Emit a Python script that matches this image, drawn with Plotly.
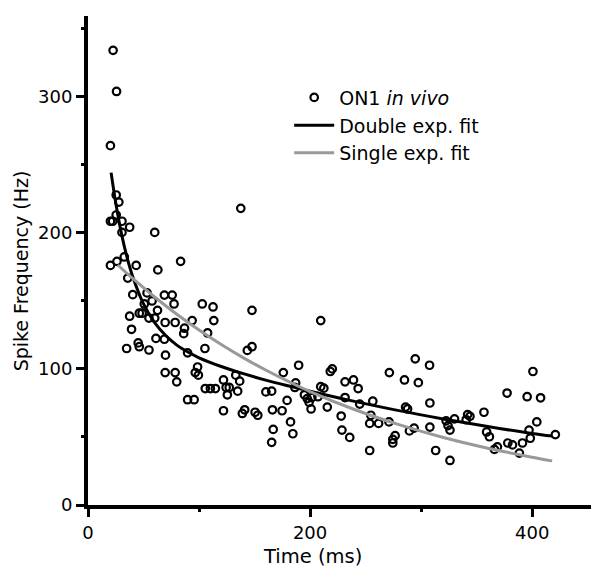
import plotly.graph_objects as go

# ---- data ----
time_ms = [22.6, 25.7, 20.2, 25.4, 27.8, 20.2, 22.2, 25.4, 30.6, 30.6, 37.5, 32.7, 20.2, 26.1, 43.4,
           60.1, 62.9, 83.4, 137.6, 35.8, 40.3, 37.5, 39.2, 34.8, 45.2, 46.2, 46.2, 48.7, 50.7, 53.2,
           54.9, 57.7, 60.1, 54.9, 61.2, 62.6, 68.8, 75.8, 69.5, 77.5, 78.5, 68.8, 69.8, 69.5, 78.5,
           79.9, 86.9, 86.2, 89.7, 93.8, 89.7, 95.6, 96.6, 98.7, 99.4, 102.9, 105.3, 107.7, 105.6, 110.2,
           114.7, 112.6, 113.3, 122.0, 124.4, 125.5, 127.2, 122.0, 133.1, 134.8, 136.6, 139.0, 141.1, 143.5, 147.7,
           147.7, 150.5, 152.9, 160.2, 165.4, 166.1, 166.8, 165.4, 174.8, 175.9, 179.3, 182.4, 184.5, 186.3, 187.0,
           189.7, 194.9, 197.4, 199.1, 200.9, 201.6, 207.1, 209.6, 212.4, 209.6, 215.5, 218.2, 220.0, 228.0, 228.7,
           231.5, 231.5, 235.7, 239.1, 243.3, 244.7, 253.7, 253.7, 254.7, 256.5, 261.7, 271.4, 271.1, 274.5, 274.5,
           276.6, 285.0, 286.0, 287.8, 289.5, 293.7, 294.7, 297.5, 307.6, 307.9, 307.9, 313.1, 322.5, 324.2, 326.0,
           326.0, 330.1, 340.6, 341.9, 344.0, 356.6, 359.0, 361.5, 366.0, 368.7, 377.4, 378.1, 382.3, 388.5, 391.3,
           395.5, 397.2, 398.3, 400.7, 404.2, 407.6, 420.9]
spike_hz = [333.8, 303.6, 263.8, 227.6, 222.4, 208.3, 208.3, 212.9, 208.3, 200.1, 203.9, 182.1, 175.9, 178.9, 175.9,
            200.1, 172.6, 178.9, 217.8, 166.6, 154.4, 138.6, 129.0, 114.9, 119.0, 116.2, 140.8, 140.8, 147.6, 155.7,
            137.2, 149.8, 137.2, 113.8, 122.3, 142.9, 154.1, 154.1, 134.0, 147.6, 134.0, 121.7, 110.0, 97.2, 97.2,
            90.4, 129.8, 125.8, 111.7, 135.4, 77.3, 77.3, 97.2, 101.3, 95.3, 147.6, 114.9, 126.3, 85.5, 85.5,
            85.5, 145.4, 135.4, 91.8, 86.3, 80.9, 86.3, 69.2, 95.3, 83.6, 90.9, 67.2, 69.9, 113.5, 116.2,
            142.9, 68.1, 65.9, 83.0, 83.6, 69.9, 55.5, 46.0, 69.2, 97.2, 76.8, 61.0, 52.3, 86.3, 89.6,
            102.6, 80.9, 78.1, 75.4, 70.5, 78.9, 79.5, 86.9, 85.8, 135.4, 71.9, 98.0, 99.9, 65.3, 55.0,
            78.9, 90.4, 49.6, 91.8, 85.5, 74.1, 40.0, 59.9, 65.9, 76.2, 59.9, 97.2, 61.0, 48.2, 45.5,
            50.9, 91.8, 71.9, 70.5, 54.4, 56.4, 107.3, 89.8, 102.6, 74.9, 57.2, 40.0, 61.8, 58.3, 55.0,
            32.7, 63.2, 62.6, 66.4, 65.1, 68.1, 53.6, 50.1, 40.8, 42.7, 82.2, 45.5, 44.1, 38.1, 45.5,
            79.5, 55.0, 49.0, 98.0, 61.0, 78.7, 51.7]

double_t = [20.8, 25, 30, 35, 40, 50, 60, 70, 80, 90, 100, 120, 140, 160, 180, 200, 240, 280, 320, 360, 400, 418]
double_hz = [244, 221.7, 199.8, 182.3, 168.3, 147.6, 133.9, 124.4, 117.4, 112.3, 108.1, 101.7, 96.4, 91.7,
             87.5, 83.5, 76.1, 69.3, 63.2, 57.6, 52.5, 50.6]

single_t = [26.8, 40, 60, 80, 100, 120, 140, 160, 180, 200, 240, 280, 320, 360, 400, 418]
single_hz = [176.2, 166.5, 152.7, 140.0, 128.4, 117.8, 108.0, 99.1, 90.9, 83.3, 70.1, 59.0, 49.6, 41.7, 35.1, 32.4]

x_ticks = [0, 200, 400]
y_ticks = [0, 100, 200, 300]

FONT = "DejaVu Sans"

fig = go.Figure()
fig.add_trace(go.Scatter(
    x=time_ms, y=spike_hz, mode="markers", name="ON1 <i>in vivo</i>",
    marker=dict(symbol="circle-open", size=7.5, color="black", line=dict(width=2.2, color="black")),
))
fig.add_trace(go.Scatter(
    x=double_t, y=double_hz, mode="lines", name="Double exp. fit",
    line=dict(color="black", width=3, shape="spline"),
))
fig.add_trace(go.Scatter(
    x=single_t, y=single_hz, mode="lines", name="Single exp. fit",
    line=dict(color="#999999", width=3, shape="spline"),
))

axis_common = dict(
    showline=True, linecolor="black", linewidth=4, mirror=False,
    ticks="outside", ticklen=8, tickwidth=3, tickcolor="black",
    showgrid=False, zeroline=False,
    tickfont=dict(family=FONT, size=18, color="black"),
)

fig.update_xaxes(range=[0, 453], tickvals=x_ticks,
                 minor=dict(ticks="outside", dtick=100, ticklen=3, tickwidth=3, tickcolor="black"),
                 **axis_common)
fig.update_yaxes(range=[0, 359], tickvals=y_ticks,
                 minor=dict(ticks="outside", dtick=50, ticklen=3, tickwidth=3, tickcolor="black"),
                 **axis_common)

fig.add_annotation(text="Time (ms)", xref="paper", yref="paper", x=0.447, y=-0.106,
                   showarrow=False, xanchor="center", yanchor="middle",
                   font=dict(family=FONT, size=19.5, color="black"))
fig.add_annotation(text="Spike Frequency (Hz)", xref="paper", yref="paper", x=-0.134, y=0.479,
                   showarrow=False, xanchor="center", yanchor="middle", textangle=-90,
                   font=dict(family=FONT, size=19, color="black"))

fig.update_layout(
    width=600, height=581,
    margin=dict(l=80, r=17, t=8, b=84),
    plot_bgcolor="white", paper_bgcolor="white",
    showlegend=True,
    legend=dict(x=0.40, y=0.872, xanchor="left", yanchor="top",
                bgcolor="rgba(0,0,0,0)", borderwidth=0,
                font=dict(family=FONT, size=19, color="black"),
                itemwidth=40, tracegroupgap=0),
)

fig.write_html("out.html")
